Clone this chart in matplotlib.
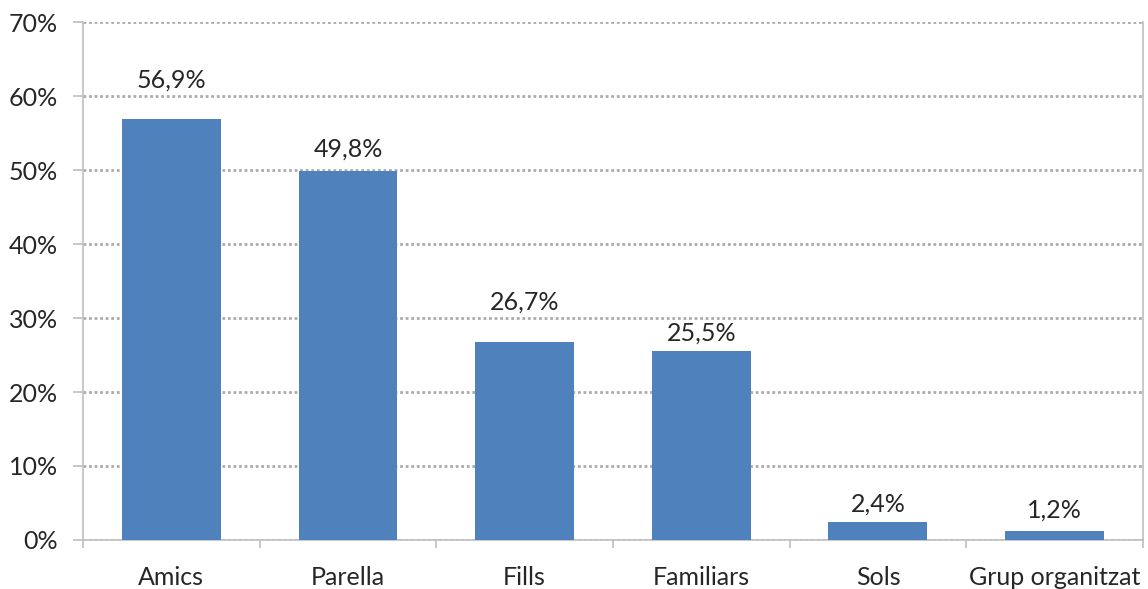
import matplotlib.pyplot as plt
import numpy as np
from matplotlib.ticker import FuncFormatter

categories = ['Amics', 'Parella', 'Fills', 'Familiars', 'Sols', 'Grup organitzat']
values = [56.9, 49.8, 26.7, 25.5, 2.4, 1.2]
yticks = [0, 10, 20, 30, 40, 50, 60, 70]

# label offsets above the bar tops (points), as placed in the original
label_offsets = [28, 16, 29, 13, 13, 15]

plt.rcParams['font.family'] = ['Lato', 'DejaVu Sans']
text_color = '#262626'
axis_color = '#bfbfbf'

fig = plt.figure(figsize=(11.48, 5.89), dpi=100)
ax = fig.add_axes([0.0723, 0.0832, 0.9233, 0.8794])

x = np.arange(len(categories))
ax.bar(x, values, width=0.56, color='#4f81bd', zorder=3)

for xi, v, off in zip(x, values, label_offsets):
    ax.annotate(f'{v:.1f}%'.replace('.', ','), (xi, v), xytext=(0, off),
                textcoords='offset points', ha='center', va='center',
                fontsize=18, color=text_color)

ax.set_xlim(-0.5, len(categories) - 0.5)
ax.set_ylim(0, 70)
ax.set_yticks(yticks)
ax.yaxis.set_major_formatter(FuncFormatter(lambda v, p: f'{v:.0f}%'))
ax.grid(axis='y', linestyle=(0, (1, 1)), color='#ababab', linewidth=2, zorder=0)
ax.set_axisbelow(True)

# category labels centred, tick marks at category boundaries
ax.set_xticks(x)
ax.set_xticklabels(categories, fontsize=18, color=text_color)
ax.tick_params(axis='x', length=0, pad=19)
ax.set_xticks(np.arange(len(categories) + 1) - 0.5, minor=True)
ax.tick_params(axis='x', which='minor', length=6, color=axis_color, width=1.2)
ax.tick_params(axis='y', length=7, color=axis_color, width=1.2, labelsize=18,
               labelcolor=text_color, pad=11)

ax.spines['top'].set_visible(False)
for side in ['left', 'right', 'bottom']:
    ax.spines[side].set_color(axis_color)
    ax.spines[side].set_linewidth(1.2)

plt.savefig('out.png', dpi=100)
